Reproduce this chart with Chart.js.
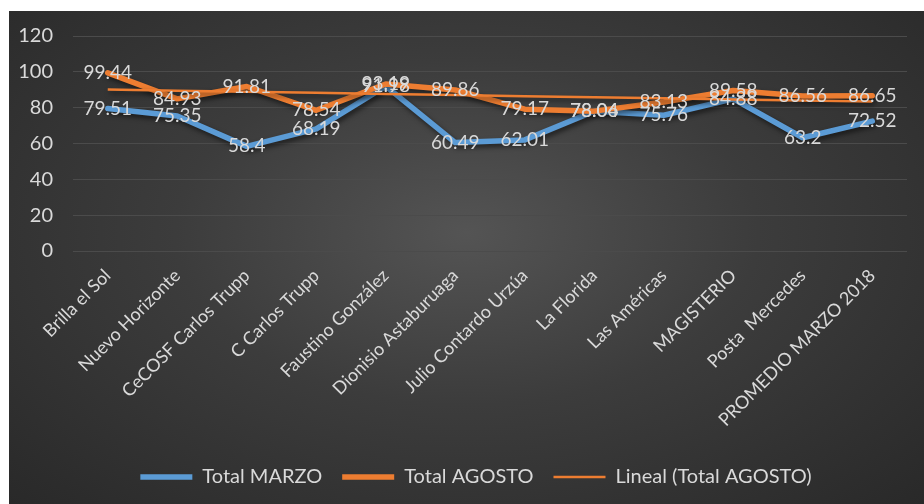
<!DOCTYPE html>
<html>
<head>
<meta charset="utf-8">
<script src="https://cdn.jsdelivr.net/npm/chart.js@4/dist/chart.umd.min.js"></script>
<style>
    html, body { margin: 0; padding: 0; background: #ffffff; }
    body { width: 924px; height: 504px; position: relative; overflow: hidden; }
    .panel {
        position: absolute; left: 9px; top: 11px; width: 915px; height: 493px;
        background: radial-gradient(ellipse at 50% 45%, #545454 0%, #3c3c3c 45%, #292929 100%);
    }
</style>
</head>
<body>
<div class="panel"><canvas id="chart"></canvas></div>
<script>
// Datos
const centros = ['Brilla el Sol', 'Nuevo Horizonte', 'CeCOSF Carlos Trupp', 'C Carlos Trupp',
    'Faustino González', 'Dionisio Astaburuaga', 'Julio Contardo Urzúa', 'La Florida',
    'Las Américas', 'MAGISTERIO', 'Posta  Mercedes', 'PROMEDIO MARZO 2018'];
const totalMarzo = [79.51, 75.35, 58.4, 68.19, 91.98, 60.49, 62.01, 78.04, 75.76, 84.88, 63.2, 72.52];
const totalAgosto = [99.44, 84.93, 91.81, 78.54, 93.19, 89.86, 79.17, 78.06, 83.13, 89.58, 86.56, 86.65];
const yTicks = [0, 20, 40, 60, 80, 100, 120];

// Línea de tendencia lineal (mínimos cuadrados) sobre Total AGOSTO
function tendenciaLineal(vals) {
    const n = vals.length;
    const mx = (n + 1) / 2;
    const my = vals.reduce((s, v) => s + v, 0) / n;
    let sxy = 0, sxx = 0;
    vals.forEach((v, i) => {
        sxy += (i + 1 - mx) * (v - my);
        sxx += (i + 1 - mx) * (i + 1 - mx);
    });
    const m = sxy / sxx;
    return vals.map((v, i) => my + m * (i + 1 - mx));
}
const lineal = tendenciaLineal(totalAgosto);

const AZUL = '#5B9BD5';
const NARANJA = '#ED7D31';
const TEXTO = '#d9d9d9';
const FUENTE = 'Lato';

// Sombra suave bajo las líneas
const sombraPlugin = {
    id: 'sombra',
    beforeDatasetDraw(chart) {
        const ctx = chart.ctx;
        ctx.save();
        ctx.shadowColor = 'rgba(0,0,0,0.55)';
        ctx.shadowBlur = 5;
        ctx.shadowOffsetX = 2;
        ctx.shadowOffsetY = 3;
    },
    afterDatasetDraw(chart) {
        chart.ctx.restore();
    }
};

// Etiquetas de datos centradas en cada punto
const etiquetasPlugin = {
    id: 'etiquetas',
    afterDatasetsDraw(chart) {
        const ctx = chart.ctx;
        ctx.save();
        ctx.font = '19px ' + FUENTE;
        ctx.fillStyle = TEXTO;
        ctx.textAlign = 'center';
        ctx.textBaseline = 'middle';
        [0, 1].forEach(di => {
            const meta = chart.getDatasetMeta(di);
            const vals = chart.data.datasets[di].data;
            meta.data.forEach((pt, i) => {
                ctx.fillText(String(vals[i]), pt.x, pt.y);
            });
        });
        ctx.restore();
    }
};

// La leyenda de Excel queda algo corrida a la derecha
const leyendaPlugin = {
    id: 'leyendaOffset',
    afterLayout(chart) {
        chart.legend.left += 18;
        chart.legend.right += 18;
    }
};

new Chart(document.getElementById('chart'), {
    type: 'line',
    data: {
        labels: centros,
        datasets: [
            {
                label: 'Total MARZO',
                data: totalMarzo,
                borderColor: AZUL,
                backgroundColor: AZUL,
                borderWidth: 5.5,
                pointRadius: 0,
                tension: 0,
                borderJoinStyle: 'round',
                borderCapStyle: 'round',
                order: 2
            },
            {
                label: 'Total AGOSTO',
                data: totalAgosto,
                borderColor: NARANJA,
                backgroundColor: NARANJA,
                borderWidth: 5.5,
                pointRadius: 0,
                tension: 0,
                borderJoinStyle: 'round',
                borderCapStyle: 'round',
                order: 1
            },
            {
                label: 'Lineal (Total AGOSTO)',
                data: lineal,
                borderColor: NARANJA,
                backgroundColor: NARANJA,
                borderWidth: 2.5,
                pointRadius: 0,
                tension: 0,
                order: 0
            }
        ]
    },
    options: {
        responsive: true,
        maintainAspectRatio: false,
        animation: false,
        layout: { padding: { top: 25, right: 17, bottom: 7, left: 0 } },
        plugins: {
            tooltip: { enabled: false },
            legend: {
                position: 'bottom',
                labels: {
                    usePointStyle: true,
                    pointStyle: 'line',
                    pointStyleWidth: 52,
                    color: TEXTO,
                    font: { family: FUENTE, size: 20 },
                    padding: 20,
                    sort: (a, b) => a.datasetIndex - b.datasetIndex
                }
            }
        },
        scales: {
            x: {
                offset: true,
                grid: { display: false },
                border: { display: false },
                ticks: {
                    color: TEXTO,
                    font: { family: FUENTE, size: 18 },
                    maxRotation: 45,
                    minRotation: 45,
                    autoSkip: false,
                    padding: 6
                },
                afterFit(scale) { scale.height = 196; }
            },
            y: {
                min: 0,
                max: 120,
                afterBuildTicks(scale) { scale.ticks = yTicks.map(v => ({ value: v })); },
                grid: { color: '#4b4b4b', lineWidth: 1, drawTicks: false },
                border: { display: false },
                ticks: {
                    color: TEXTO,
                    font: { family: FUENTE, size: 20 },
                    padding: 20
                },
                afterFit(scale) {
                    scale.width = 64;
                    scale.paddingTop = 0;
                    scale.paddingBottom = 0;
                }
            }
        }
    },
    plugins: [sombraPlugin, etiquetasPlugin, leyendaPlugin]
});
</script>
</body>
</html>
